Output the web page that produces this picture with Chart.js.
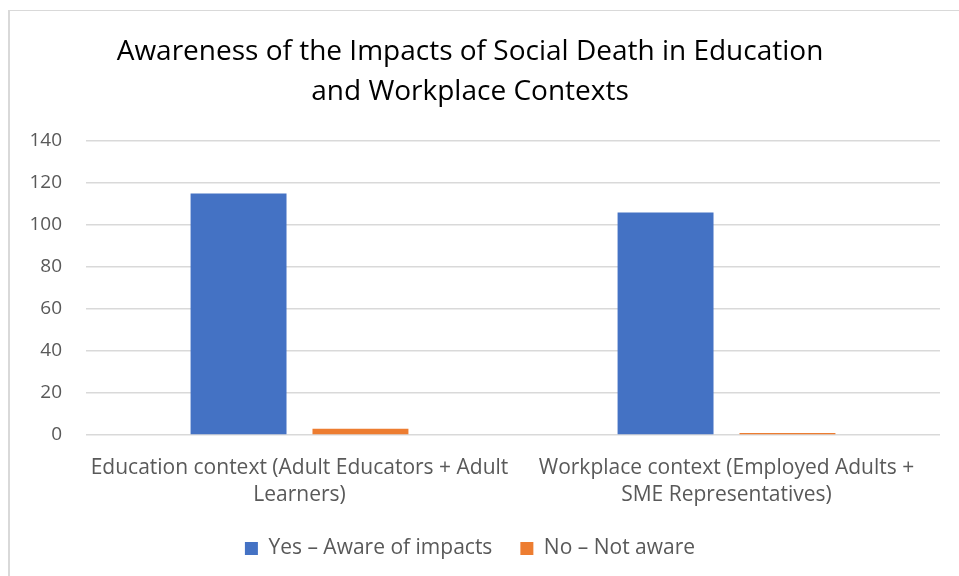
<!DOCTYPE html>
<html>
<head>
<meta charset="utf-8">
<script src="https://cdn.jsdelivr.net/npm/chart.js@4.4.1/dist/chart.umd.min.js"></script>
<style>
  html, body { margin: 0; padding: 0; background: #fff; }
  #frame {
    position: absolute; left: 8px; top: 10px; width: 960px; height: 580px;
    border-left: 2px solid #d9d9d9; border-top: 1px solid #d9d9d9;
  }
  #wrap { position: absolute; left: 0; top: 0; width: 959px; height: 576px; }
</style>
</head>
<body>
<div id="frame"></div>
<div id="wrap"><canvas id="c" width="959" height="576"></canvas></div>
<script>
// Survey categories (split into the two lines shown under the axis)
const categories = [
  ["Education context (Adult Educators + Adult", "Learners)"],
  ["Workplace context (Employed Adults +", "SME Representatives)"]
];
const seriesNames = ["Yes \u2013 Aware of impacts", "No \u2013 Not aware"];
const yesAware = [115, 106];
const notAware = [3, 1];
const yTicks = [0, 20, 40, 60, 80, 100, 120, 140];

const FONT = "'Open Sans', sans-serif";
const GREY_TEXT = "#595959";
const GRID = "#d9d9d9";

new Chart(document.getElementById("c"), {
  type: "bar",
  data: {
    labels: categories,
    datasets: [
      { label: seriesNames[0], data: yesAware, backgroundColor: "#4472C4",
        categoryPercentage: 0.571, barPercentage: 0.787 },
      { label: seriesNames[1], data: notAware, backgroundColor: "#ED7D31",
        categoryPercentage: 0.571, barPercentage: 0.787 }
    ]
  },
  options: {
    responsive: false,
    animation: false,
    layout: { padding: { left: 0, right: 19, top: 0, bottom: 7 } },
    plugins: {
      title: {
        display: true,
        text: ["Awareness of the Impacts of Social Death in Education", "and Workplace Contexts"],
        color: "#000",
        font: { family: FONT, size: 28, weight: "normal", lineHeight: 1.43 },
        padding: { top: 32, bottom: 29 }
      },
      legend: {
        position: "bottom",
        labels: {
          color: GREY_TEXT,
          font: { family: FONT, size: 21 },
          boxWidth: 13, boxHeight: 13, padding: 28
        }
      },
      tooltip: { enabled: false }
    },
    scales: {
      x: {
        afterFit: (s) => { s.height = 75; },
        grid: { display: false },
        border: { display: false },
        ticks: {
          color: GREY_TEXT, font: { family: FONT, size: 21, lineHeight: 1.29 },
          maxRotation: 0, autoSkip: false, padding: 11
        }
      },
      y: {
        min: 0, max: 140,
        afterBuildTicks: (s) => { s.ticks = yTicks.map(v => ({ value: v })); },
        afterFit: (s) => { s.width = 86; },
        grid: { color: GRID, lineWidth: 1.5, drawTicks: false },
        border: { display: false },
        ticks: { color: GREY_TEXT, font: { family: FONT, size: 19 }, padding: 24 }
      }
    }
  }
});
</script>
</body>
</html>
